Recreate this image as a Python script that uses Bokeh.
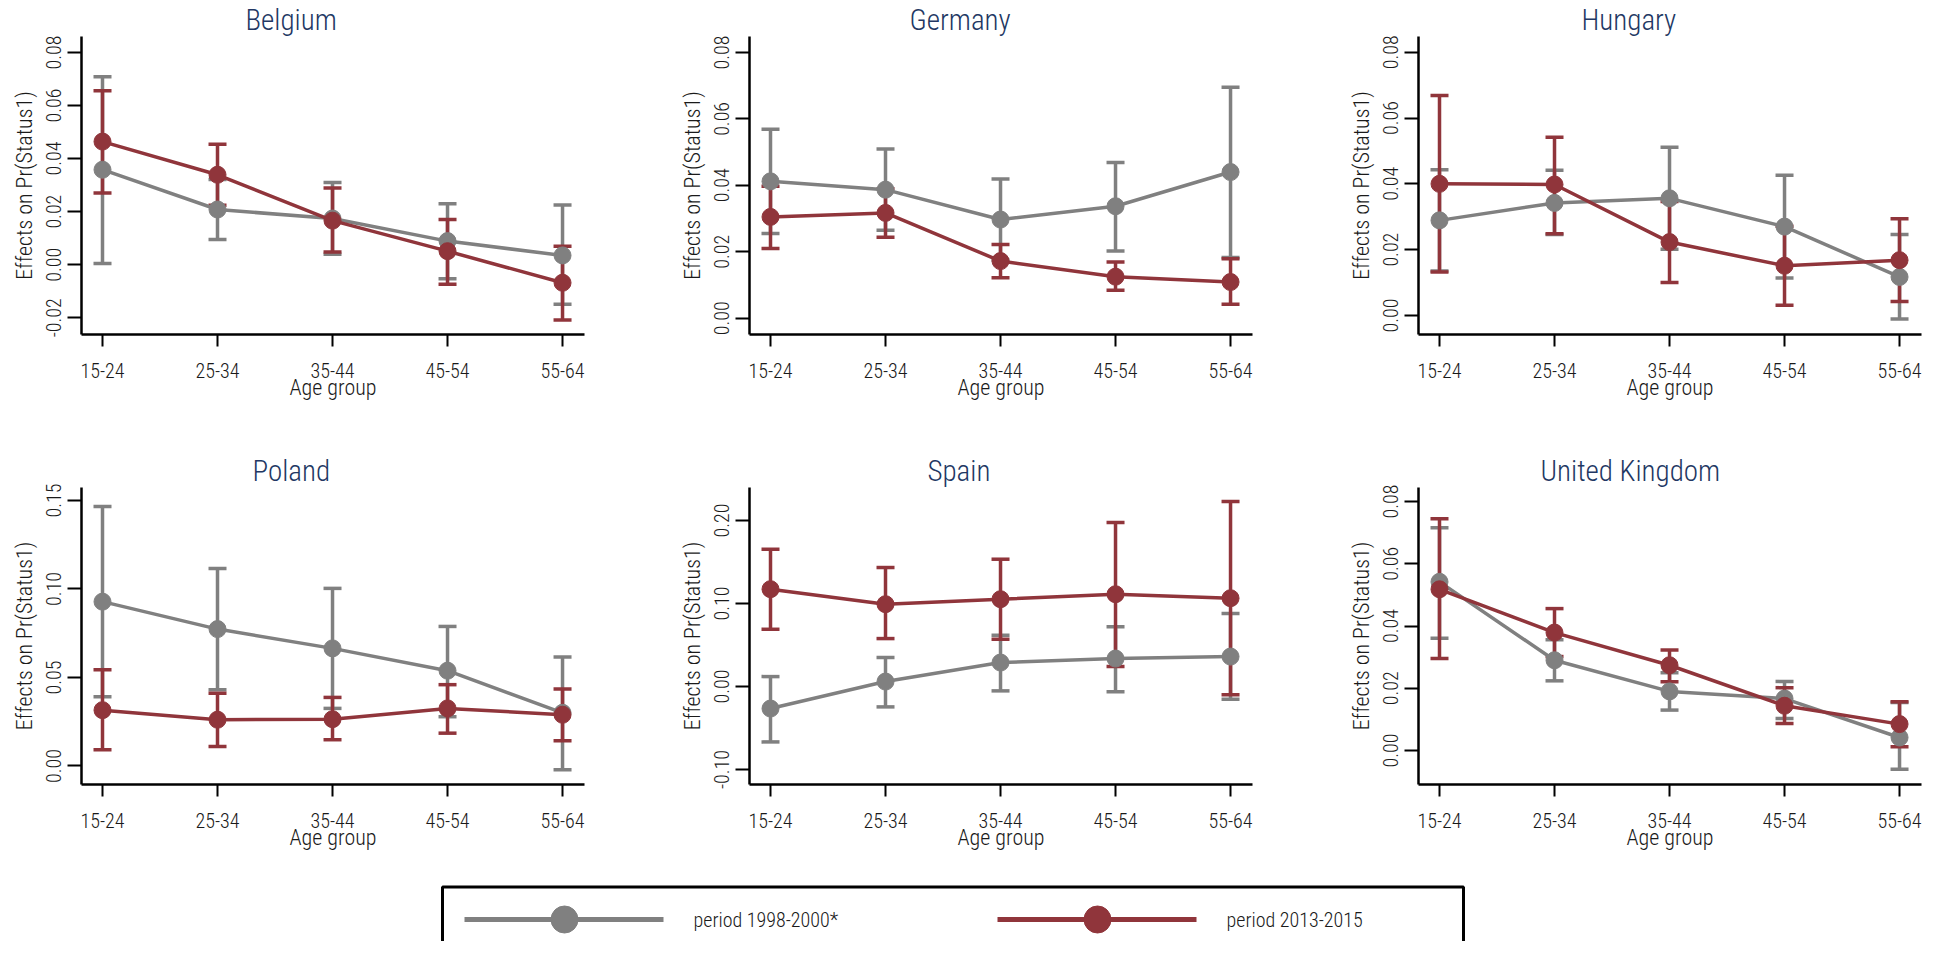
from bokeh.plotting import figure
from bokeh.models import Range1d, FixedTicker, PrintfTickFormatter, Whisker, ColumnDataSource, TeeHead
from bokeh.layouts import column, row
from bokeh.embed import file_html
from bokeh.resources import INLINE
from bokeh.core.properties import value

# ---------------- data ----------------
age_groups = ["15-24", "25-34", "35-44", "45-54", "55-64"]
countries = ["Belgium", "Germany", "Hungary", "Poland", "Spain", "United Kingdom"]
periods = ["period 1998-2000*", "period 2013-2015"]

# period 1998-2000 (gray): estimate, lower CI, upper CI
belgium_old = [0.0358, 0.0208, 0.0174, 0.0089, 0.0035]
belgium_old_lo = [0.0005, 0.0095, 0.0039, -0.0053, -0.0149]
belgium_old_hi = [0.0708, 0.0321, 0.0310, 0.0230, 0.0225]
germany_old = [0.0412, 0.0387, 0.0297, 0.0337, 0.0440]
germany_old_lo = [0.0255, 0.0265, 0.0175, 0.0202, 0.0183]
germany_old_hi = [0.0569, 0.0509, 0.0419, 0.0469, 0.0695]
hungary_old = [0.0289, 0.0342, 0.0356, 0.0270, 0.0117]
hungary_old_lo = [0.0135, 0.0246, 0.0201, 0.0114, -0.0011]
hungary_old_hi = [0.0443, 0.0441, 0.0511, 0.0426, 0.0246]
poland_old = [0.0928, 0.0773, 0.0664, 0.0538, 0.0300]
poland_old_lo = [0.0391, 0.0431, 0.0325, 0.0278, -0.0021]
poland_old_hi = [0.1466, 0.1116, 0.1003, 0.0788, 0.0615]
spain_old = [-0.0265, 0.0060, 0.0289, 0.0337, 0.0361]
spain_old_lo = [-0.0667, -0.0245, -0.0052, -0.0064, -0.0153]
spain_old_hi = [0.0120, 0.0350, 0.0618, 0.0719, 0.0880]
uk_old = [0.0542, 0.0290, 0.0190, 0.0167, 0.0042]
uk_old_lo = [0.0361, 0.0224, 0.0130, 0.0103, -0.0060]
uk_old_hi = [0.0716, 0.0356, 0.0250, 0.0222, 0.0154]

# period 2013-2015 (red): estimate, lower CI, upper CI
belgium_new = [0.0464, 0.0339, 0.0166, 0.0051, -0.0068]
belgium_new_lo = [0.0270, 0.0224, 0.0048, -0.0074, -0.0208]
belgium_new_hi = [0.0656, 0.0454, 0.0289, 0.0170, 0.0070]
germany_new = [0.0305, 0.0317, 0.0172, 0.0125, 0.0109]
germany_new_lo = [0.0210, 0.0244, 0.0122, 0.0084, 0.0042]
germany_new_hi = [0.0397, 0.0390, 0.0222, 0.0169, 0.0179]
hungary_new = [0.0400, 0.0398, 0.0223, 0.0151, 0.0168]
hungary_new_lo = [0.0132, 0.0248, 0.0100, 0.0031, 0.0042]
hungary_new_hi = [0.0669, 0.0542, 0.0346, 0.0271, 0.0294]
poland_new = [0.0315, 0.0261, 0.0264, 0.0325, 0.0289]
poland_new_lo = [0.0092, 0.0110, 0.0148, 0.0185, 0.0142]
poland_new_hi = [0.0543, 0.0410, 0.0387, 0.0459, 0.0434]
spain_new = [0.1173, 0.0992, 0.1052, 0.1112, 0.1064]
spain_new_lo = [0.0690, 0.0578, 0.0570, 0.0241, -0.0100]
spain_new_hi = [0.1654, 0.1434, 0.1534, 0.1976, 0.2229]
uk_new = [0.0518, 0.0379, 0.0274, 0.0144, 0.0085]
uk_new_lo = [0.0296, 0.0302, 0.0221, 0.0087, 0.0012]
uk_new_hi = [0.0745, 0.0456, 0.0323, 0.0202, 0.0157]

# y axis ticks per panel
ticks_small = [0.00, 0.02, 0.04, 0.06, 0.08]
ticks_belgium = [-0.02, 0.00, 0.02, 0.04, 0.06, 0.08]
ticks_poland = [0.00, 0.05, 0.10, 0.15]
ticks_spain = [-0.10, 0.00, 0.10, 0.20]

# ---------------- style ----------------
GRAY = "#808080"
RED = "#90353b"
NAVY = "#223763"
TXT = "#1a1a1a"
FONT = "Roboto Condensed Light, Roboto Condensed, Roboto"
TITLE_FONT = "Roboto Condensed Light, Roboto Condensed, Roboto"
FRAME_W = 503
PAGE_W = 1925
TITLE_HALF_W = {"Belgium": 45, "Germany": 49, "Hungary": 46, "Poland": 38,
                "Spain": 31, "United Kingdom": 87}

panels = [
    ("Belgium", belgium_old, belgium_old_lo, belgium_old_hi, belgium_new, belgium_new_lo, belgium_new_hi, (-0.0263, 0.0860), ticks_belgium),
    ("Germany", germany_old, germany_old_lo, germany_old_hi, germany_new, germany_new_lo, germany_new_hi, (-0.0049, 0.0848), ticks_small),
    ("Hungary", hungary_old, hungary_old_lo, hungary_old_hi, hungary_new, hungary_new_lo, hungary_new_hi, (-0.0058, 0.0848), ticks_small),
    ("Poland", poland_old, poland_old_lo, poland_old_hi, poland_new, poland_new_lo, poland_new_hi, (-0.0105, 0.1573), ticks_poland),
    ("Spain", spain_old, spain_old_lo, spain_old_hi, spain_new, spain_new_lo, spain_new_hi, (-0.118, 0.2398), ticks_spain),
    ("United Kingdom", uk_old, uk_old_lo, uk_old_hi, uk_new, uk_new_lo, uk_new_hi, (-0.0109, 0.0845), ticks_small),
]


def make_panel(spec, col, rowi):
    name, g, glo, ghi, r, rlo, rhi, yr, yt = spec
    bl = [81, 81, 82][col]
    br = [84, 84, 4][col]
    width = bl + FRAME_W + br
    if rowi == 0:
        bt, fh, bb = 35, 299, 116
    else:
        bt, fh, bb = 37, 297, 78
    height = bt + fh + bb
    p = figure(width=width, height=height, output_backend="svg", toolbar_location=None,
               x_range=Range1d(0.8174, 5.191), y_range=Range1d(yr[0], yr[1]),
               min_border_left=bl, min_border_right=br, min_border_top=bt, min_border_bottom=bb)
    p.outline_line_color = None
    p.grid.visible = False
    p.background_fill_color = "white"
    p.border_fill_color = "white"

    p.title.text = name
    p.title.text_font = TITLE_FONT
    p.title.text_font_size = "29px"
    p.title.text_font_style = "normal"
    p.title.text_color = NAVY
    p.title.align = "left"
    p.title.offset = 209 - TITLE_HALF_W[name]
    p.title.standoff = 0

    xs = list(range(1, len(age_groups) + 1))
    for (m, lo, hi, colr) in [(g, glo, ghi, GRAY), (r, rlo, rhi, RED)]:
        src = ColumnDataSource(dict(x=xs, m=m, lo=lo, hi=hi))
        w = Whisker(source=src, base="x", lower="lo", upper="hi", dimension="height",
                    line_color=colr, line_width=3.5,
                    lower_head=TeeHead(size=18, line_color=colr, line_width=3.5),
                    upper_head=TeeHead(size=18, line_color=colr, line_width=3.5))
        p.add_layout(w)
        p.line("x", "m", source=src, line_color=colr, line_width=3.5)
        p.scatter("x", "m", source=src, size=17, fill_color=colr, line_color=colr)

    # x axis
    xa = p.xaxis[0]
    xa.ticker = FixedTicker(ticks=xs)
    xa.major_label_overrides = {i: lab for i, lab in zip(xs, age_groups)}
    xa.axis_line_width = 2.5
    xa.axis_line_color = "black"
    xa.major_tick_line_width = 2
    xa.major_tick_out = 12
    xa.major_tick_in = 0
    xa.minor_tick_line_color = None
    xa.major_label_standoff = 16
    xa.major_label_text_font = FONT
    xa.major_label_text_font_size = "20px"
    xa.major_label_text_color = TXT
    xa.axis_label = "Age group"
    xa.axis_label_text_font = FONT
    xa.axis_label_text_font_size = "22px"
    xa.axis_label_text_font_style = "normal"
    xa.axis_label_text_color = TXT
    xa.axis_label_standoff = -6

    # y axis
    ya = p.yaxis[0]
    ya.ticker = FixedTicker(ticks=yt)
    ya.formatter = PrintfTickFormatter(format="%.2f")
    ya.axis_line_width = 2.5
    ya.axis_line_color = "black"
    ya.major_tick_line_width = 2
    ya.major_tick_out = 14
    ya.major_tick_in = 0
    ya.minor_tick_line_color = None
    ya.major_label_orientation = "vertical"
    ya.major_label_standoff = 6
    ya.major_label_text_font = FONT
    ya.major_label_text_font_size = "20px"
    ya.major_label_text_color = TXT
    ya.axis_label = "Effects on Pr(Status1)"
    ya.axis_label_text_font = FONT
    ya.axis_label_text_font_size = "22px"
    ya.axis_label_text_font_style = "normal"
    ya.axis_label_text_color = TXT
    ya.axis_label_standoff = 7
    return p


figs = [make_panel(spec, i % 3, i // 3) for i, spec in enumerate(panels)]

# legend strip
lg = figure(width=PAGE_W, height=79, output_backend="svg", toolbar_location=None,
            x_range=Range1d(0, PAGE_W), y_range=Range1d(79, 0),
            x_axis_type=None, y_axis_type=None,
            min_border_left=0, min_border_right=0, min_border_top=0, min_border_bottom=0)
lg.outline_line_color = None
lg.grid.visible = False
lg.line([442, 442, 1463, 1463], [95, 24.5, 24.5, 95], line_color="black", line_width=3)
legend_colors = [GRAY, RED]
legend_x = [464, 997]
for lab, colr, x0 in zip(periods, legend_colors, legend_x):
    lg.line([x0, x0 + 199], [57, 57], line_color=colr, line_width=5)
    lg.scatter([x0 + 100], [57], size=27, fill_color=colr, line_color=colr)
    lg.text([x0 + 229], [57], text=[lab], text_font=value(FONT), text_font_size="20px",
            text_baseline="middle", text_align="left", text_color=TXT)

layout = column(row(figs[0], figs[1], figs[2]), row(figs[3], figs[4], figs[5]), lg)

open("out.html", "w").write(file_html(layout, INLINE))
